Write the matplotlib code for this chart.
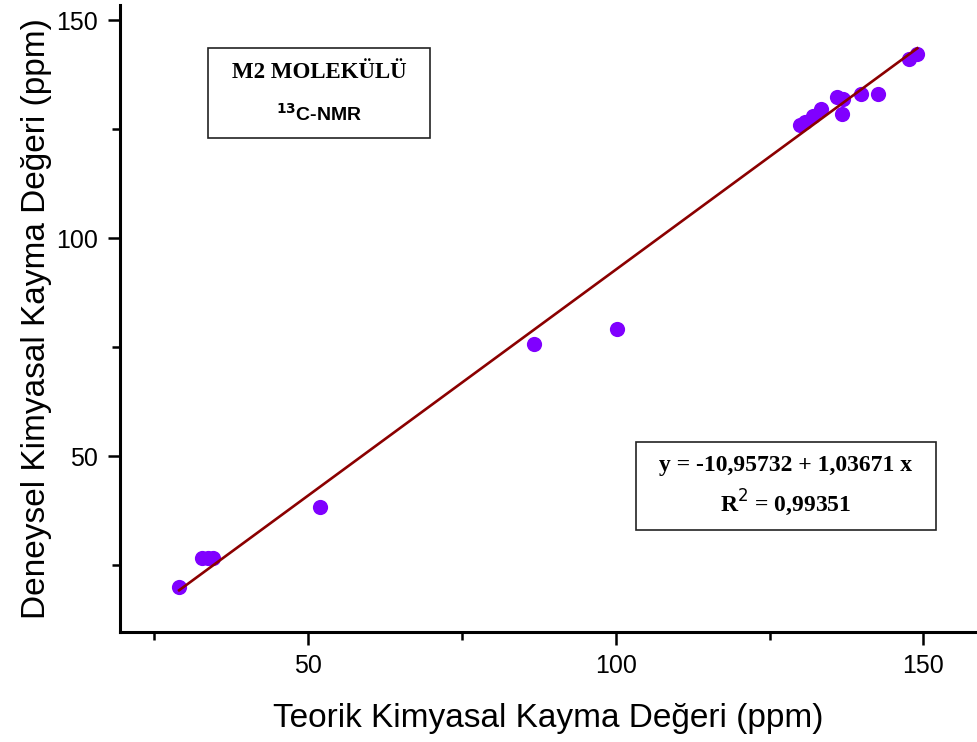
import matplotlib
matplotlib.use("Agg")
import matplotlib.pyplot as plt
from matplotlib.ticker import MultipleLocator

# Theoretical (x) and experimental (y) 13C chemical shifts, ppm
teorik = [29.1, 32.8, 33.8, 34.6, 52.0, 86.7, 100.2,
          129.9, 130.7, 132.0, 133.4, 135.9, 136.9, 136.7,
          139.9, 142.7, 147.7, 149.0]
deneysel = [19.9, 26.7, 26.7, 26.7, 38.4, 75.8, 79.2,
            126.0, 126.7, 127.9, 129.5, 132.4, 132.0, 128.5,
            133.1, 133.1, 141.1, 142.2]

# Linear fit coefficients
kesisim = -10.95732
egim = 1.03671
r_kare = 0.99351

fig = plt.figure(figsize=(9.78, 7.42), dpi=100)
ax = fig.add_axes([0.1227, 0.148, 0.875, 0.845])

ax.scatter(teorik, deneysel, s=120, color="#8000ff", zorder=2, linewidths=0)

x_fit = [min(teorik), max(teorik)]
y_fit = [kesisim + egim * v for v in x_fit]
ax.plot(x_fit, y_fit, color="#8b0000", lw=1.9, zorder=3)

ax.set_xlim(19.5, 158.5)
ax.set_ylim(9.6, 153.4)

for side in ("top", "right"):
    ax.spines[side].set_visible(False)
for side in ("left", "bottom"):
    ax.spines[side].set_linewidth(2.2)

ax.xaxis.set_major_locator(MultipleLocator(50))
ax.xaxis.set_minor_locator(MultipleLocator(25))
ax.yaxis.set_major_locator(MultipleLocator(50))
ax.yaxis.set_minor_locator(MultipleLocator(25))
ax.tick_params(which="major", length=9, width=1.8, direction="out",
               labelsize=18, pad=7)
ax.tick_params(which="minor", length=6, width=1.8, direction="out")
for lab in ax.get_xticklabels() + ax.get_yticklabels():
    lab.set_family("Liberation Sans")

ax.set_xlabel("Teorik Kimyasal Kayma Değeri (ppm)", fontsize=24,
              family="Liberation Sans", labelpad=18)
ax.set_ylabel("Deneysel Kimyasal Kayma Değeri (ppm)", fontsize=24,
              family="Liberation Sans", labelpad=3)

# Title box (upper left)
ax.text(0.2325, 0.893, "M2 MOLEKÜLÜ", transform=ax.transAxes, ha="center",
        va="center", fontsize=16.5, fontweight="bold",
        family="Liberation Serif")
ax.text(0.2325, 0.826, r"$\mathbf{^{13}}$C-NMR", transform=ax.transAxes,
        ha="center", va="center", fontsize=14, fontweight="bold",
        family="Liberation Sans")
ax.add_patch(plt.Rectangle((0.103, 0.788), 0.259, 0.143,
                           transform=ax.transAxes, fill=False, lw=1.2,
                           edgecolor="#222222"))

# Regression box (lower right)
ax.text(0.778, 0.266, f"y = {kesisim:.5f} + {egim:.5f} x".replace(".", ","),
        transform=ax.transAxes, ha="center", va="center", fontsize=17,
        fontweight="bold", family="Liberation Serif")
ax.text(0.778, 0.206, f"R$^2$ = {r_kare:.5f}".replace(".", ","),
        transform=ax.transAxes, ha="center", va="center", fontsize=17,
        fontweight="bold", family="Liberation Serif")
ax.add_patch(plt.Rectangle((0.603, 0.163), 0.350, 0.140,
                           transform=ax.transAxes, fill=False, lw=1.2,
                           edgecolor="#222222"))

fig.savefig("out.png", dpi=100)
